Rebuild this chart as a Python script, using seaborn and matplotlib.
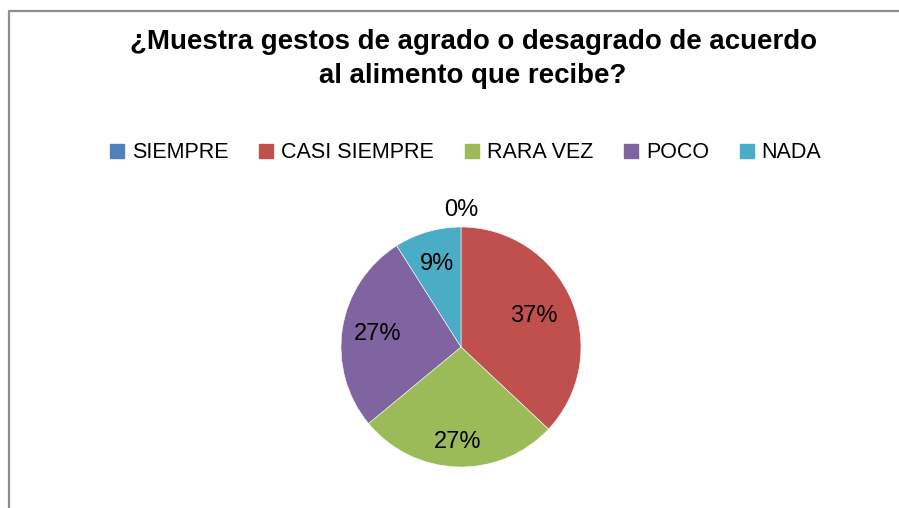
import matplotlib
matplotlib.use('Agg')
import matplotlib.pyplot as plt
import seaborn as sns
import numpy as np
from matplotlib.lines import Line2D

# Datos del grafico
categorias = ['SIEMPRE', 'CASI SIEMPRE', 'RARA VEZ', 'POCO', 'NADA']
porcentajes = [0, 37, 27, 27, 9]
titulo = '¿Muestra gestos de agrado o desagrado de acuerdo\nal alimento que recibe?'

sns.set_theme(style='white')
plt.rcParams['font.family'] = ['Liberation Sans', 'DejaVu Sans']
plt.rcParams['text.color'] = 'black'

colores = ['#4F81BD', '#C0504D', '#9BBB59', '#8064A2', '#4BACC6']
paleta = sns.color_palette(colores)

fig = plt.figure(figsize=(8.99, 5.08), dpi=100)
W, H = 899, 508

# Marco gris (solo arriba e izquierda, como en la captura)
fig.add_artist(Line2D([9 / W, 1], [1 - 11 / H, 1 - 11 / H], color='#8c8c8c', lw=1.6,
                      transform=fig.transFigure))
fig.add_artist(Line2D([9 / W, 9 / W], [0, 1 - 11 / H], color='#8c8c8c', lw=1.6,
                      transform=fig.transFigure))

# Titulo
fig.text(473 / W, 1 - 59 / H, titulo, ha='center', va='center', fontsize=19.9,
         fontweight='bold', linespacing=1.42, color='black')

# Pastel
cx, cy, r = 461, 347, 120
ax = fig.add_axes([(cx - r) / W, (H - cy - r) / H, 2 * r / W, 2 * r / H])
cunas, _ = ax.pie(porcentajes, colors=paleta, startangle=90, counterclock=False,
                  radius=1, wedgeprops=dict(edgecolor='white', linewidth=0.4))
ax.set_xlim(-1, 1)
ax.set_ylim(-1, 1)
ax.set_aspect('equal')

# Etiquetas de porcentaje
distancias = [1.14, 0.66, 0.79, 0.70, 0.72]
for cuna, p, d in zip(cunas, porcentajes, distancias):
    ang = np.deg2rad((cuna.theta1 + cuna.theta2) / 2)
    ax.text(d * np.cos(ang), d * np.sin(ang), f'{p}%', ha='center', va='center',
            fontsize=17, color='black')

# Leyenda
manijas = [Line2D([], [], marker='s', linestyle='', markersize=9.4, color=c)
           for c in paleta]
fig.legend(manijas, categorias, loc='center', bbox_to_anchor=(466 / W, 1 - 153 / H),
           ncol=5, frameon=False, fontsize=15.5, handlelength=0.6,
           handletextpad=0.4, columnspacing=1.45, borderpad=0, labelcolor='black')

plt.savefig('out.png', dpi=100)
